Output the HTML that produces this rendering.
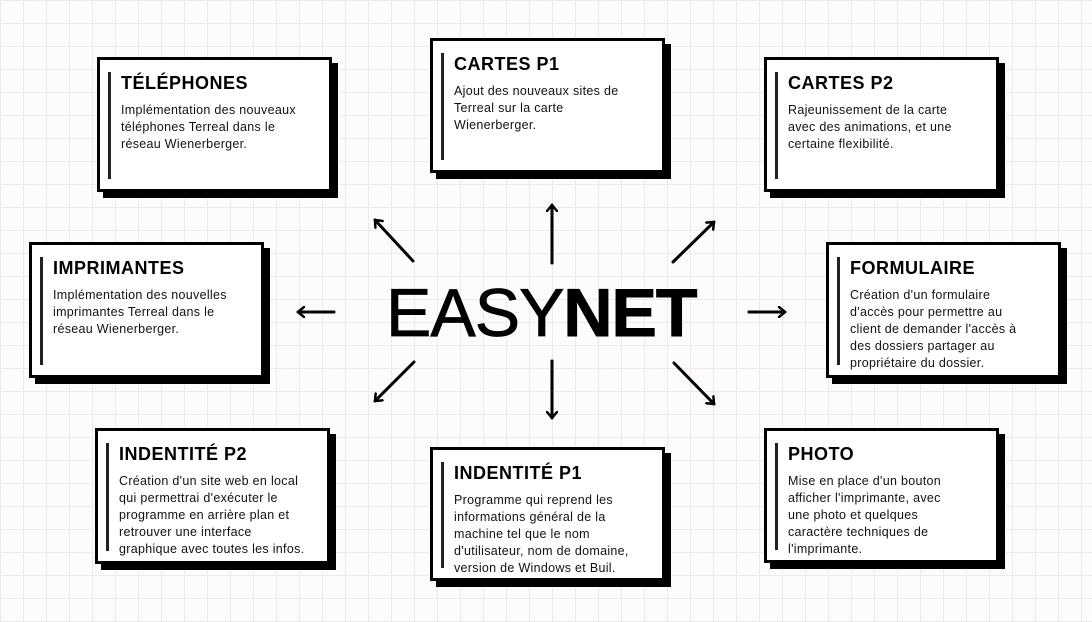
<!DOCTYPE html>
<html><head><meta charset="utf-8"><style>
body{margin:0;width:1092px;height:622px;overflow:hidden;position:relative;font-family:"Liberation Sans",sans-serif;
background-color:#fdfcfc;
background-image:linear-gradient(#efe9e9 1px,transparent 1px),linear-gradient(90deg,#efe9e9 1px,transparent 1px);
background-size:23px 23px;}
.b{position:absolute;width:235px;background:#fff;border:3px solid #000;box-shadow:6px 6px 0 #000;box-sizing:border-box;}
.b:before{content:"";position:absolute;left:8px;top:12px;bottom:10px;width:3px;background:#222;}
.b h3{margin:0;position:absolute;left:21px;top:13px;font-size:18px;font-weight:900;letter-spacing:.5px;}
.b p{margin:0;position:absolute;left:21px;top:42px;width:215px;white-space:nowrap;font-size:12.5px;line-height:17px;color:#111;letter-spacing:.3px;}
.t{position:absolute;left:386px;top:278px;font-size:68px;line-height:70px;letter-spacing:-1px;white-space:nowrap}
</style></head><body>
<div class="b" style="left:97px;top:57px;height:135px"><h3>TÉLÉPHONES</h3><p>Implémentation des nouveaux<br>téléphones Terreal dans le<br>réseau Wienerberger.</p></div>
<div class="b" style="left:430px;top:38px;height:135px"><h3>CARTES P1</h3><p>Ajout des nouveaux sites de<br>Terreal sur la carte<br>Wienerberger.</p></div>
<div class="b" style="left:764px;top:57px;height:135px"><h3>CARTES P2</h3><p>Rajeunissement de la carte<br>avec des animations, et une<br>certaine flexibilité.</p></div>
<div class="b" style="left:29px;top:242px;height:136px"><h3>IMPRIMANTES</h3><p>Implémentation des nouvelles<br>imprimantes Terreal dans le<br>réseau Wienerberger.</p></div>
<div class="b" style="left:826px;top:242px;height:136px"><h3>FORMULAIRE</h3><p>Création d'un formulaire<br>d'accès pour permettre au<br>client de demander l'accès à<br>des dossiers partager au<br>propriétaire du dossier.</p></div>
<div class="b" style="left:95px;top:428px;height:136px"><h3>INDENTITÉ P2</h3><p>Création d'un site web en local<br>qui permettrai d'exécuter le<br>programme en arrière plan et<br>retrouver une interface<br>graphique avec toutes les infos.</p></div>
<div class="b" style="left:430px;top:447px;height:134px"><h3>INDENTITÉ P1</h3><p>Programme qui reprend les<br>informations général de la<br>machine tel que le nom<br>d'utilisateur, nom de domaine,<br>version de Windows et Buil.</p></div>
<div class="b" style="left:764px;top:428px;height:135px"><h3>PHOTO</h3><p>Mise en place d'un bouton<br>afficher l'imprimante, avec<br>une photo et quelques<br>caractère techniques de<br>l'imprimante.</p></div>
<div class="t"><span style="font-weight:normal;-webkit-text-stroke:0.8px #000">EASY</span><span style="font-weight:900;-webkit-text-stroke:1px #000">NET</span></div>
<svg width="1092" height="622" style="position:absolute;left:0;top:0" fill="none" stroke="#000" stroke-width="3" stroke-linecap="round" stroke-linejoin="round">
<defs><marker id="a" markerWidth="10" markerHeight="12" refX="7" refY="6" orient="auto" markerUnits="userSpaceOnUse"><path d="M1,1 L7,6 L1,11" stroke="#000" stroke-width="2.5" fill="none"/></marker></defs>
<g marker-end="url(#a)">
<line x1="413" y1="261" x2="375" y2="220"/>
<line x1="552" y1="263" x2="552" y2="205"/>
<line x1="673" y1="262" x2="714" y2="222"/>
<line x1="334" y1="312" x2="298" y2="312"/>
<line x1="749" y1="312" x2="785" y2="312"/>
<line x1="414" y1="362" x2="375" y2="401"/>
<line x1="552" y1="361" x2="552" y2="418"/>
<line x1="674" y1="363" x2="714" y2="404"/>
</g></svg>
</body></html>
